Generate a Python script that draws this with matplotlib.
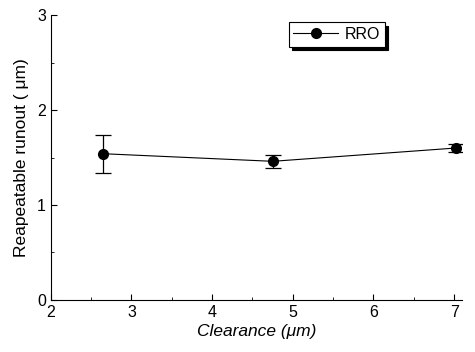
import matplotlib
matplotlib.use("Agg")
import matplotlib.pyplot as plt
from matplotlib.ticker import MultipleLocator
from matplotlib.lines import Line2D

plt.rcParams['font.family'] = ['Liberation Sans', 'DejaVu Sans']

clearance = [2.65, 4.75, 7.02]
rro = [1.54, 1.46, 1.60]
rro_err = [0.20, 0.07, 0.04]

fig = plt.figure(figsize=(4.75, 3.52), dpi=100)
ax = fig.add_axes([0.107, 0.148, 0.866, 0.809])

ax.errorbar(clearance, rro, yerr=rro_err, color='black', marker='o',
            markersize=7, linewidth=0.8, elinewidth=0.9, capsize=6,
            capthick=0.9)

ax.set_xlim(2, 7.1)
ax.set_ylim(0, 3)
ax.xaxis.set_major_locator(MultipleLocator(1))
ax.xaxis.set_minor_locator(MultipleLocator(0.5))
ax.yaxis.set_major_locator(MultipleLocator(1))
ax.yaxis.set_minor_locator(MultipleLocator(0.5))
ax.tick_params(which='both', direction='in', labelsize=11.5)
ax.tick_params(which='major', length=4)
ax.tick_params(which='minor', length=2)
for s in ('top', 'right'):
    ax.spines[s].set_visible(False)

ax.set_xlabel('Clearance (μm)', fontsize=12.5, style='italic', labelpad=3)
ax.set_ylabel('Reapeatable runout ( μm)', fontsize=12.5, labelpad=6)

handle = Line2D([], [], color='black', marker='o', markersize=7, linewidth=0.8)
leg = ax.legend([handle], ['RRO'], loc='upper left',
                bbox_to_anchor=(0.578, 0.975), fontsize=11.5,
                frameon=True, fancybox=False,
                shadow={'ox': 2.5, 'oy': -2.5, 'color': 'black', 'alpha': 1},
                handlelength=2.8, borderpad=0.3, handletextpad=0.4,
                borderaxespad=0.0)
leg.get_frame().set_edgecolor('black')
leg.get_frame().set_linewidth(0.8)
leg.get_frame().set_alpha(1)

fig.savefig('out.png', dpi=100)
